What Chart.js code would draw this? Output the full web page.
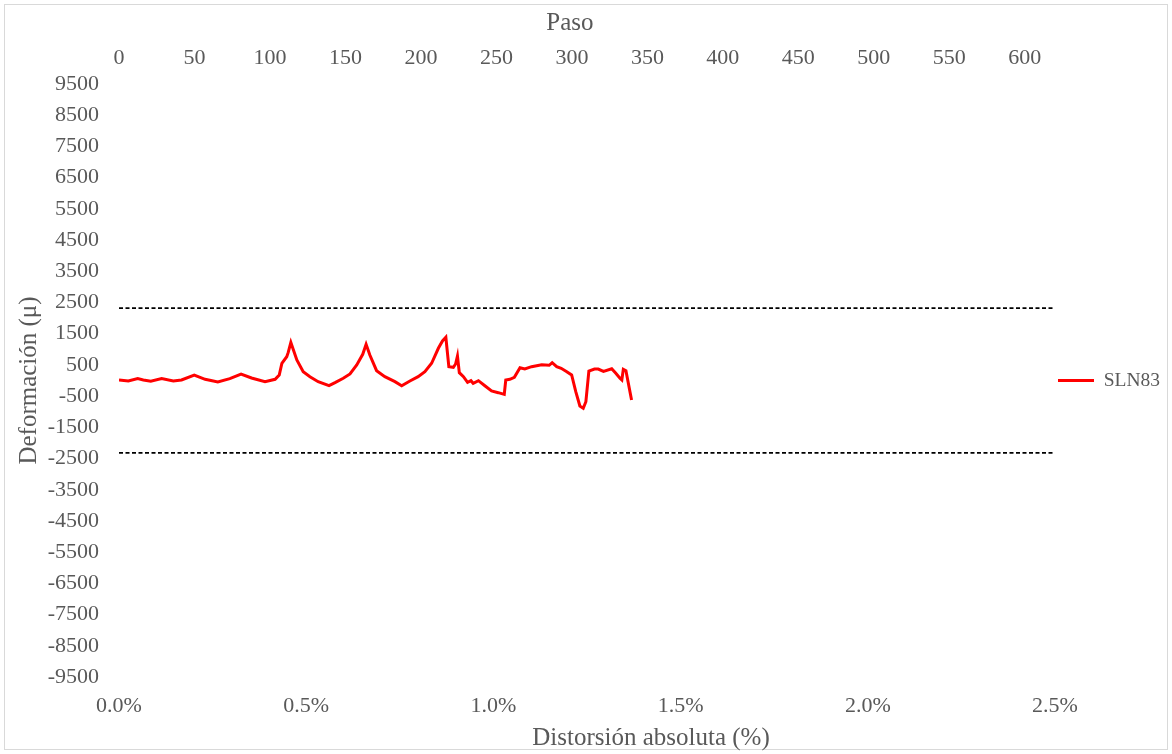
<!DOCTYPE html>
<html>
<head>
<meta charset="utf-8">
<script src="https://cdn.jsdelivr.net/npm/chart.js@4.4.1/dist/chart.umd.min.js"></script>
<style>
  html, body { margin: 0; padding: 0; background: #ffffff; }
  #wrap { width: 1172px; height: 754px; position: relative; }
  canvas { display: block; }
</style>
</head>
<body>
<div id="wrap"><canvas id="c" width="1172" height="754"></canvas></div>
<script>
// ---- Data ----
const seriesName = 'SLN83';
const distorsion = [0.000, 0.025, 0.050, 0.065, 0.085, 0.114, 0.145, 0.167, 0.201, 0.230,
  0.264, 0.296, 0.326, 0.354, 0.390, 0.417, 0.428, 0.435, 0.448, 0.452, 0.459, 0.475,
  0.492, 0.510, 0.532, 0.561, 0.577, 0.599, 0.617, 0.635, 0.651, 0.660, 0.670, 0.688,
  0.710, 0.737, 0.755, 0.777, 0.799, 0.817, 0.835, 0.853, 0.864, 0.873, 0.881, 0.893,
  0.899, 0.904, 0.909, 0.920, 0.931, 0.940, 0.946, 0.960, 0.978, 0.995, 1.013, 1.029,
  1.033, 1.044, 1.056, 1.071, 1.084, 1.102, 1.129, 1.149, 1.157, 1.169, 1.181, 1.196,
  1.209, 1.220, 1.231, 1.240, 1.247, 1.255, 1.270, 1.280, 1.294, 1.316, 1.327, 1.338,
  1.343, 1.347, 1.354, 1.369];
const deformacion = [20, -16, 60, 16, -25, 60, -16, 16, 176, 38,
  -48, 60, 208, 80, -38, 38, 176, 550, 763, 900, 1220, 657,
  282, 122, -38, -166, -70, 70, 208, 497, 840, 1160, 817, 314,
  122, -38, -166, -16, 122, 282, 551, 1032, 1266, 1384, 442, 423,
  529, 785, 250, 122, -58, -6, -90, -6, -176, -336, -390, -443,
  16, 38, 102, 410, 368, 442, 506, 487, 570, 442, 390, 282,
  176, -359, -817, -891, -679, 304, 368, 368, 294, 378, 230, 70,
  16, 358, 314, -625];
const limiteSuperior = 2320;
const limiteInferior = -2320;
const xRange = [0, 2.5];      // Distorsión absoluta (%)
const pasoRange = [0, 620];   // Paso (top axis)
const yRange = [-9500, 9500]; // Deformación
const titles = { top: 'Paso', bottom: 'Distorsión absoluta (%)', left: 'Deformación (μ)' };

const serie = distorsion.map((d, i) => ({ x: d, y: deformacion[i] }));
const limSup = xRange.map(x => ({ x: x, y: limiteSuperior }));
const limInf = xRange.map(x => ({ x: x, y: limiteInferior }));

const FONT = "'Liberation Serif', 'Times New Roman', serif";
const GREY = '#595959';

const framePlugin = {
  id: 'frame',
  beforeDraw(chart) {
    const ctx = chart.ctx;
    ctx.save();
    ctx.fillStyle = '#ffffff';
    ctx.fillRect(0, 0, chart.width, chart.height);
    ctx.strokeStyle = '#d9d9d9';
    ctx.lineWidth = 1;
    ctx.strokeRect(4.5, 4.5, chart.width - 9, chart.height - 9);
    ctx.restore();
  },
  afterDraw(chart) {
    const ctx = chart.ctx;
    const a = chart.chartArea;
    ctx.save();
    ctx.fillStyle = GREY;
    ctx.font = '25px ' + FONT;
    ctx.textAlign = 'center';
    ctx.textBaseline = 'middle';
    ctx.fillText(titles.top, a.left + (a.right - a.left) * 0.4818, 23);
    ctx.fillText(titles.bottom, a.left + (a.right - a.left) * 0.5684, 738);
    ctx.translate(29, a.top + (a.bottom - a.top) * 0.5);
    ctx.rotate(-Math.PI / 2);
    ctx.fillText(titles.left, 0, 0);
    ctx.restore();
  }
};

new Chart(document.getElementById('c'), {
  type: 'line',
  data: {
    datasets: [
      { label: seriesName, data: serie, borderColor: '#ff0000', backgroundColor: '#ff0000',
        borderWidth: 3, pointRadius: 0, tension: 0, xAxisID: 'x', yAxisID: 'y' },
      { label: 'lim+', data: limSup, borderColor: '#000000', borderWidth: 1.6, borderDash: [4, 2.5],
        pointRadius: 0, xAxisID: 'x', yAxisID: 'y' },
      { label: 'lim-', data: limInf, borderColor: '#000000', borderWidth: 1.6, borderDash: [4, 2.5],
        pointRadius: 0, xAxisID: 'x', yAxisID: 'y' }
    ]
  },
  options: {
    responsive: false,
    animation: false,
    devicePixelRatio: 1,
    layout: { padding: { left: 0, right: 6, top: 44, bottom: 37 } },
    plugins: {
      tooltip: { enabled: false },
      legend: {
        position: 'right',
        align: 'center',
        maxWidth: 111,
        labels: {
          boxWidth: 36,
          boxHeight: 3,
          padding: 3,
          color: GREY,
          font: { family: FONT, size: 19.5 },
          generateLabels: (chart) => [{ text: seriesName, fillStyle: '#ff0000', strokeStyle: '#ff0000',
            lineWidth: 0, fontColor: GREY, datasetIndex: 0, hidden: false }]
        }
      }
    },
    scales: {
      x: {
        type: 'linear', position: 'bottom', min: xRange[0], max: xRange[1],
        grid: { display: false, drawTicks: false }, border: { display: false },
        ticks: { stepSize: 0.5, autoSkip: false, maxRotation: 0, padding: 16, color: GREY,
          font: { family: FONT, size: 22 }, callback: v => Number(v).toFixed(1) + '%' },
        afterFit: s => { s.height = 40; }
      },
      x2: {
        type: 'linear', position: 'top', min: pasoRange[0], max: pasoRange[1],
        grid: { display: false, drawTicks: false }, border: { display: false },
        ticks: { stepSize: 50, includeBounds: false, autoSkip: false, maxRotation: 0, padding: 13,
          color: GREY, font: { family: FONT, size: 22 }, callback: v => String(v) },
        afterFit: s => { s.height = 40; }
      },
      y: {
        type: 'linear', position: 'left', min: yRange[0], max: yRange[1],
        grid: { display: false, drawTicks: false }, border: { display: false },
        ticks: { stepSize: 1000, autoSkip: false, padding: 20, color: GREY,
          font: { family: FONT, size: 22 }, callback: v => String(v) },
        afterFit: s => { s.width = 119; }
      }
    }
  },
  plugins: [framePlugin]
});
</script>
</body>
</html>
